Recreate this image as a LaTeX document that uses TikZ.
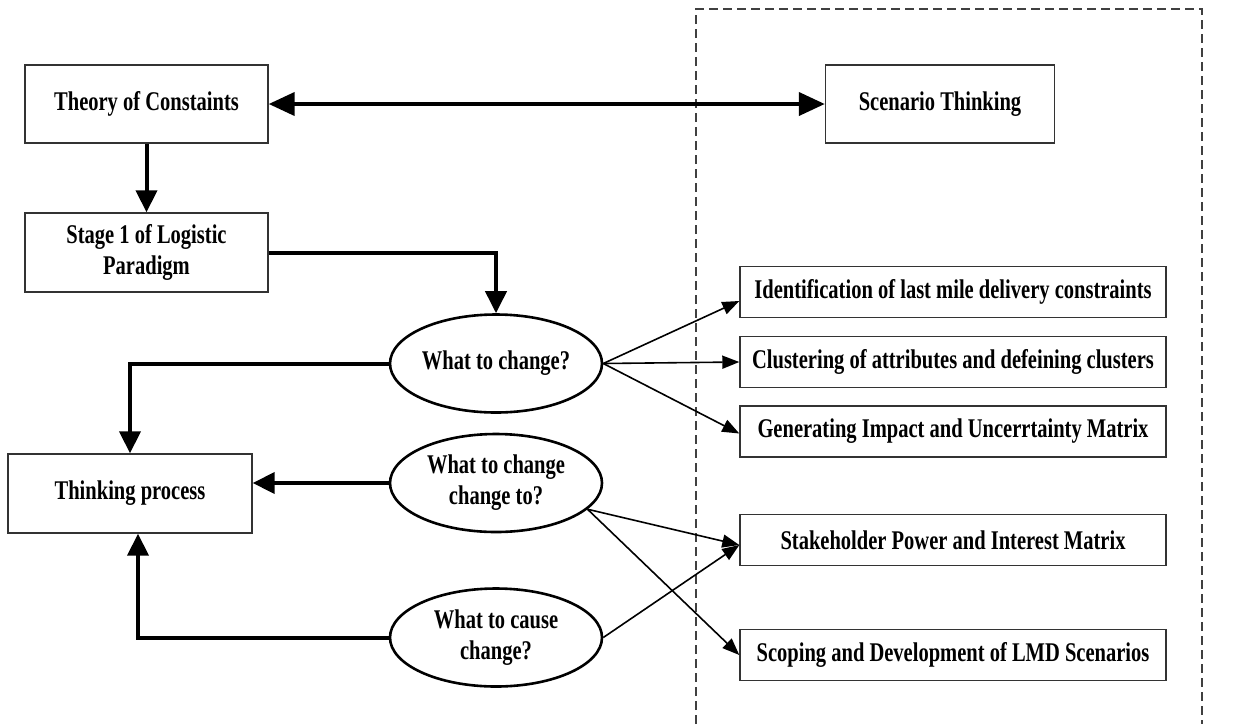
\documentclass[tikz,border=0pt]{standalone}
\usepackage{fontspec}
\setmainfont{Liberation Serif}[FakeStretch=0.76]
\usetikzlibrary{arrows.meta,shapes.geometric,calc}
\newcommand{\lblfont}{\fontsize{27pt}{31pt}\selectfont\bfseries}
\begin{document}
\begin{tikzpicture}[x=1pt,y=-1pt,
  stdbox/.style={draw=black!80, line width=1.4pt, inner sep=0pt, align=center, font=\lblfont},
  leftbox/.style={stdbox, minimum width=243pt, minimum height=78pt},
  rightbox/.style={stdbox, minimum width=426pt, minimum height=51pt},
  question/.style={ellipse, draw=black, line width=2.6pt, inner sep=0pt, align=center,
    minimum width=212pt, minimum height=98pt, font=\lblfont},
  bigarrow/.style={line width=4pt, -{Triangle[length=22pt,width=21pt]}},
  smallarrow/.style={line width=1.6pt, -{Triangle[length=17pt,width=13pt]}}]
\useasboundingbox (0,0) rectangle (1237,724);

% scenario thinking frame (open at the bottom)
\draw[black!75, line width=1.3pt, dash pattern=on 9pt off 5pt]
  (696,724) -- (696,9) -- (1202,9) -- (1202,724);

% left column
\node[leftbox] (toc) at (146.5,104) {Theory of Constaints};
\node[leftbox, minimum height=79pt] (stage) at (146.5,252.5) {Stage 1 of Logistic\\Paradigm};
\node[stdbox, minimum width=244pt, minimum height=79pt] (think) at (130,493.5) {Thinking process};

% scenario side
\node[stdbox, minimum width=229pt, minimum height=78pt] (scen) at (940,104) {Scenario Thinking};

% questions
\node[question] (q1) at (496,363.5) {What to change?};
\node[question] (q2) at (496,483) {What to change\\change to?};
\node[question] (q3) at (496,637.5) {What to cause\\change?};

% scenario steps
\node[rightbox] (s1) at (953,292) {Identification of last mile delivery constraints};
\node[rightbox] (s2) at (953,362) {Clustering of attributes and defeining clusters};
\node[rightbox] (s3) at (953,431.5) {Generating Impact and Uncerrtainty Matrix};
\node[rightbox] (s4) at (953,540) {Stakeholder Power and Interest Matrix};
\node[rightbox] (s5) at (953,655) {Scoping and Development of LMD Scenarios};

% thick connectors
\draw[bigarrow] (toc.south) -- (stage.north);
\draw[line width=4pt, {Triangle[length=26pt,width=23pt]}-{Triangle[length=26pt,width=23pt]}] (toc.east) -- (scen.west);
\draw[bigarrow] (stage.east) -| (q1.north);
\draw[bigarrow] (q1.west) -| (think.north);
\draw[bigarrow] (q2.west) -- (q2.west -| think.east);
\draw[bigarrow] (q3.west) -| ([xshift=8pt]think.south);

% thin connectors
\draw[smallarrow] (q1.east) -- ([yshift=-9pt]s1.west);
\draw[smallarrow] (q1.east) -- (s2.west);
\draw[smallarrow] (q1.east) -- ([yshift=-2pt]s3.west);
\draw[smallarrow] (q2.-16) -- ([yshift=-5pt]s4.west);
\draw[smallarrow] (q2.-16) -- (s5.west);
\draw[smallarrow] (q3.east) -- ([yshift=-5pt]s4.west);
\end{tikzpicture}
\end{document}
